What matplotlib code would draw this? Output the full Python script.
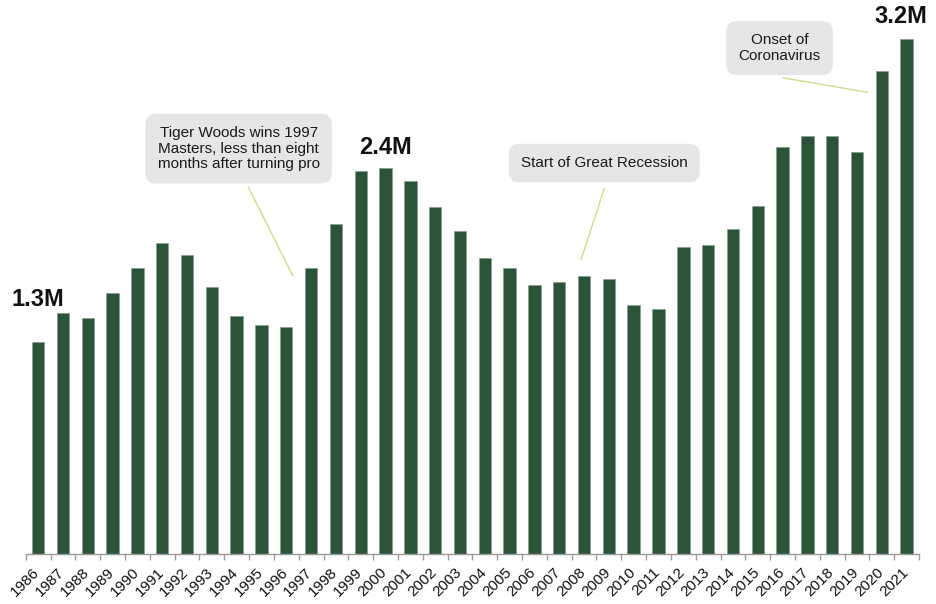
import numpy as np
import matplotlib
matplotlib.use("Agg")
import matplotlib.pyplot as plt
import matplotlib.transforms as mtransforms
from matplotlib.ticker import FixedLocator

# golfers per year, millions
years = list(range(1986, 2022))
golfers = [1.32, 1.50, 1.465, 1.62, 1.78, 1.93, 1.86, 1.66, 1.48, 1.425,
           1.41, 1.78, 2.05, 2.38, 2.40, 2.32, 2.155, 2.01, 1.84, 1.78,
           1.67, 1.69, 1.73, 1.71, 1.55, 1.52, 1.91, 1.92, 2.02, 2.165,
           2.53, 2.60, 2.60, 2.50, 3.00, 3.20]

# value callouts above selected bars: text, offset (points)
value_labels = {1986: ("1.3M", (0, 30)),
                2000: ("2.4M", (0, 15)),
                2021: ("3.2M", (-4.5, 16))}

# event notes: (text, box centre, line start, line end) in data units
events = [
    ("Tiger Woods wins 1997\nMasters, less than eight\nmonths after turning pro",
     (8.08, 2.52), (8.47, 2.28), (10.26, 1.73)),
    ("Start of Great Recession", (22.81, 2.43), (22.81, 2.27), (21.88, 1.83)),
    ("Onset of\nCoronavirus", (29.88, 3.145), (30.02, 2.96), (33.41, 2.87)),
]

plt.rcParams['font.family'] = ['Liberation Sans', 'DejaVu Sans']

fig = plt.figure(figsize=(9.36, 6.04), dpi=100)
ax = fig.add_axes([0.0275, 0.0828, 0.9544, 0.9056])

x = np.arange(len(years))
ax.bar(x, golfers, width=0.5, color='#2b5337', edgecolor='#7f9a88', linewidth=0.4)

ax.set_xlim(-0.5, len(years) - 0.5)
ax.set_ylim(0, 3.4)

for s in ['top', 'right', 'left']:
    ax.spines[s].set_visible(False)
ax.spines['bottom'].set_color('#9a9a9a')
ax.spines['bottom'].set_linewidth(1.0)
ax.set_yticks([])

ax.set_xticks(x)
ax.set_xticklabels([str(y) for y in years], rotation=45, ha='right',
                   rotation_mode='anchor', fontsize=11, color='#111111')
ax.tick_params(axis='x', which='major', length=0, pad=8)
# nudge the slanted year labels so they finish just under each bar
shift = mtransforms.ScaledTranslation(-4 / 72, 0, fig.dpi_scale_trans)
for lbl in ax.get_xticklabels():
    lbl.set_transform(lbl.get_transform() + shift)
ax.xaxis.set_minor_locator(FixedLocator(np.arange(-0.5, len(years), 1.0)))
ax.tick_params(axis='x', which='minor', length=4, color='#9a9a9a', width=1.0)

for yr, (txt, off) in value_labels.items():
    i = years.index(yr)
    ax.annotate(txt, (i, golfers[i]), xytext=off, textcoords='offset points',
                ha='center', va='center', fontsize=17, fontweight='bold',
                color='#111111')

for txt, centre, p0, p1 in events:
    ax.plot([p0[0], p1[0]], [p0[1], p1[1]], color='#c8e08a', lw=1.0)
    ax.text(centre[0], centre[1], txt, ha='center', va='center', fontsize=11,
            color='#1a1a1a', linespacing=1.15,
            bbox=dict(boxstyle='round,pad=0.8,rounding_size=0.7',
                      fc='#e6e6e6', ec='none'))

fig.savefig('out.png', dpi=100)
